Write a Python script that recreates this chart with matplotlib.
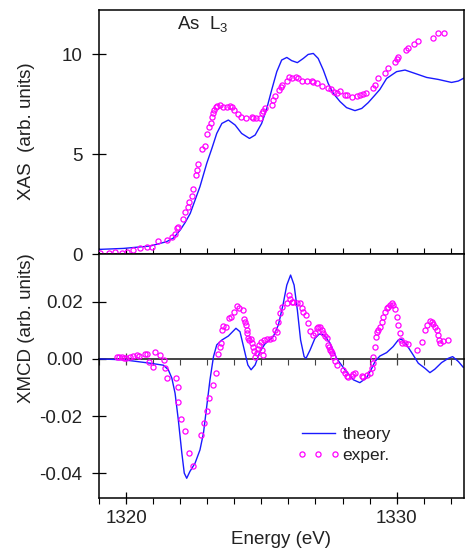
import matplotlib
matplotlib.use('Agg')
import matplotlib.pyplot as plt
from matplotlib.ticker import MultipleLocator
from matplotlib.legend_handler import HandlerLine2D

plt.rcParams['font.family'] = ['Liberation Sans', 'DejaVu Sans']
plt.rcParams['mathtext.default'] = 'regular'

TXT = '#222222'
BLUE = '#1a1aff'
MAG = '#ff00ff'
FS = 13.5

# XAS theory
xas_th_e = [1318.98, 1319.90, 1320.89, 1321.50, 1321.75, 1322.00, 1322.18, 1322.37, 1322.73,
            1322.98, 1323.17, 1323.35, 1323.54, 1323.78, 1324.03, 1324.27, 1324.56, 1324.77,
            1325.01, 1325.20, 1325.38, 1325.57, 1325.75, 1325.94, 1326.12, 1326.33, 1326.55,
            1326.73, 1326.92, 1327.10, 1327.29, 1327.47, 1327.66, 1327.91, 1328.15, 1328.46,
            1328.71, 1328.95, 1329.20, 1329.38, 1329.63, 1330.00, 1330.31, 1330.68, 1331.11,
            1331.54, 1332.03, 1332.28, 1332.52]
xas_th_v = [0.23, 0.28, 0.40, 0.62, 0.80, 1.20, 1.57, 2.03, 3.37,
            4.53, 5.28, 6.03, 6.53, 6.70, 6.45, 6.03, 5.78, 5.95,
            6.53, 7.28, 8.20, 9.12, 9.70, 9.83, 9.67, 9.57, 9.78,
            9.98, 10.03, 9.78, 9.20, 8.53, 8.03, 7.62, 7.32, 7.17,
            7.28, 7.57, 7.95, 8.23, 8.78, 9.12, 9.20, 9.03, 8.83,
            8.73, 8.58, 8.65, 8.82]

# XAS experiment
xas_ex_e = [1319.04, 1319.35, 1319.59, 1319.84, 1320.02, 1320.27, 1320.52, 1320.76, 1320.95,
            1321.19, 1321.50, 1321.69, 1321.81, 1321.87, 1321.93, 1322.12, 1322.18, 1322.27,
            1322.33, 1322.43, 1322.49, 1322.59, 1322.61, 1322.65, 1322.82, 1322.92, 1323.00,
            1323.07, 1323.13, 1323.17, 1323.23, 1323.25, 1323.31, 1323.37, 1323.47, 1323.60,
            1323.72, 1323.84, 1323.90, 1323.99, 1324.13, 1324.25, 1324.43, 1324.64, 1324.70,
            1324.79, 1324.95, 1325.01, 1325.07, 1325.14, 1325.38, 1325.44, 1325.50, 1325.65,
            1325.71, 1325.78, 1325.96, 1326.02, 1326.12, 1326.28, 1326.37, 1326.51, 1326.67,
            1326.86, 1326.92, 1327.04, 1327.23, 1327.45, 1327.56, 1327.70, 1327.78, 1327.91,
            1328.09, 1328.18, 1328.36, 1328.52, 1328.65, 1328.74, 1328.87, 1329.14, 1329.20,
            1329.30, 1329.57, 1329.69, 1329.94, 1330.00, 1330.06, 1330.34, 1330.43, 1330.65,
            1330.80, 1331.35, 1331.54, 1331.75]
xas_ex_v = [0.03, 0.03, 0.08, 0.03, 0.12, 0.20, 0.28, 0.33, 0.37,
            0.67, 0.70, 0.83, 0.98, 1.32, 1.37, 1.75, 2.08, 2.37,
            2.62, 2.90, 3.23, 3.95, 4.20, 4.50, 5.25, 5.42, 5.98,
            6.37, 6.53, 6.87, 7.07, 7.20, 7.37, 7.40, 7.47, 7.37,
            7.37, 7.40, 7.37, 7.20, 6.98, 6.87, 6.82, 6.83, 6.78,
            6.78, 6.78, 7.03, 7.15, 7.28, 7.45, 7.70, 7.92, 8.20,
            8.37, 8.45, 8.67, 8.83, 8.80, 8.83, 8.78, 8.67, 8.65,
            8.67, 8.62, 8.53, 8.40, 8.28, 8.23, 8.12, 8.07, 8.13,
            7.95, 7.97, 7.87, 7.90, 7.95, 8.00, 8.07, 8.28, 8.45,
            8.78, 9.07, 9.28, 9.62, 9.73, 9.87, 10.20, 10.28, 10.48,
            10.67, 10.78, 11.03, 11.07]

# XMCD theory
xmcd_th_e = [1318.98, 1319.90, 1320.89, 1321.38, 1321.56, 1321.69, 1321.81, 1321.93, 1322.06,
             1322.15, 1322.24, 1322.36, 1322.55, 1322.73, 1322.86, 1322.98, 1323.10, 1323.23,
             1323.35, 1323.54, 1323.78, 1324.06, 1324.21, 1324.37, 1324.50, 1324.62, 1324.77,
             1324.95, 1325.13, 1325.44, 1325.63, 1325.81, 1325.94, 1326.08, 1326.21, 1326.33,
             1326.45, 1326.58, 1326.65, 1326.80, 1326.98, 1327.14, 1327.31, 1327.54, 1327.78,
             1328.09, 1328.40, 1328.64, 1328.89, 1329.08, 1329.20, 1329.38, 1329.63, 1329.87,
             1330.06, 1330.18, 1330.37, 1330.61, 1330.80, 1331.05, 1331.23, 1331.41, 1331.66,
             1331.91, 1332.07, 1332.28, 1332.46]
xmcd_th_v = [0.0, -0.0003, -0.0015, -0.0022, -0.0038, -0.0067, -0.0120, -0.0213, -0.0329,
             -0.0399, -0.0417, -0.0393, -0.0364, -0.0318, -0.0259, -0.0166, -0.0073, 0.0008,
             0.0049, 0.0066, 0.0080, 0.0107, 0.0095, 0.0031, -0.0021, -0.0038, -0.0021,
             0.0026, 0.0052, 0.0078, 0.0119, 0.0194, 0.0258, 0.0293, 0.0258, 0.0171,
             0.0066, 0.0008, 0.0002, 0.0031, 0.0072, 0.0087, 0.0084, 0.0055, 0.0002,
             -0.0038, -0.0073, -0.0083, -0.0066, -0.0033, -0.0009, 0.0010, 0.0022, 0.0043,
             0.0066, 0.0069, 0.0049, 0.0014, -0.0015, -0.0033, -0.0048, -0.0036, -0.0013,
             0.0002, 0.0008, -0.0009, -0.0029]

# XMCD experiment
xmcd_ex_e = [1319.66, 1319.75, 1319.84, 1319.94, 1320.00, 1320.15, 1320.27, 1320.39, 1320.46,
             1320.70, 1320.79, 1320.84, 1320.99, 1321.07, 1321.26, 1321.40, 1321.44, 1321.53,
             1321.85, 1321.90, 1321.93, 1322.03, 1322.16, 1322.32, 1322.46, 1322.77, 1322.89,
             1323.00, 1323.07, 1323.20, 1323.31, 1323.41, 1323.47, 1323.50, 1323.53, 1323.60,
             1323.69, 1323.82, 1323.87, 1324.00, 1324.09, 1324.19, 1324.33, 1324.36, 1324.40,
             1324.42, 1324.46, 1324.48, 1324.52, 1324.56, 1324.62, 1324.66, 1324.70, 1324.74,
             1324.77, 1324.83, 1324.86, 1324.93, 1324.98, 1325.04, 1325.07, 1325.10, 1325.20,
             1325.32, 1325.44, 1325.50, 1325.57, 1325.63, 1325.69, 1325.75, 1325.94, 1326.03,
             1326.06, 1326.12, 1326.18, 1326.31, 1326.43, 1326.49, 1326.55, 1326.65, 1326.74,
             1326.80, 1326.92, 1326.98, 1327.04, 1327.11, 1327.17, 1327.23, 1327.29, 1327.35,
             1327.41, 1327.48, 1327.51, 1327.54, 1327.56, 1327.60, 1327.66, 1327.72, 1327.78,
             1328.03, 1328.09, 1328.15, 1328.21, 1328.34, 1328.40, 1328.46, 1328.71, 1328.77,
             1328.89, 1329.01, 1329.08, 1329.11, 1329.14, 1329.20, 1329.24, 1329.26, 1329.32,
             1329.38, 1329.45, 1329.51, 1329.57, 1329.63, 1329.69, 1329.75, 1329.82, 1329.88,
             1329.94, 1330.00, 1330.06, 1330.12, 1330.15, 1330.18, 1330.31, 1330.43, 1330.74,
             1330.92, 1331.05, 1331.11, 1331.23, 1331.29, 1331.35, 1331.42, 1331.48, 1331.54,
             1331.58, 1331.60, 1331.72, 1331.91]
xmcd_ex_v = [0.0006, 0.0006, 0.0006, 0.0002, 0.0002, 0.0008, 0.0010, 0.0013, 0.0010,
             0.0017, 0.0017, -0.0012, -0.0029, 0.0023, 0.0014, -0.0003, -0.0033, -0.0067,
             -0.0067, -0.0097, -0.0149, -0.0209, -0.0251, -0.0329, -0.0373, -0.0265, -0.0225,
             -0.0182, -0.0137, -0.0091, -0.0048, 0.0017, 0.0043, 0.0057, 0.0101, 0.0115,
             0.0113, 0.0142, 0.0148, 0.0165, 0.0185, 0.0177, 0.0171, 0.0140, 0.0130,
             0.0119, 0.0101, 0.0090, 0.0072, 0.0066, 0.0069, 0.0055, 0.0043, 0.0026,
             0.0008, 0.0020, 0.0034, 0.0049, 0.0060, 0.0031, 0.0012, 0.0066, 0.0069,
             0.0069, 0.0072, 0.0101, 0.0095, 0.0130, 0.0159, 0.0180, 0.0194, 0.0223,
             0.0208, 0.0200, 0.0200, 0.0194, 0.0194, 0.0177, 0.0165, 0.0154, 0.0127,
             0.0098, 0.0084, 0.0090, 0.0107, 0.0113, 0.0111, 0.0101, 0.0090, 0.0080,
             0.0072, 0.0049, 0.0043, 0.0031, 0.0026, 0.0020, 0.0008, -0.0009, -0.0021,
             -0.0038, -0.0050, -0.0059, -0.0062, -0.0059, -0.0052, -0.0050, -0.0059, -0.0062,
             -0.0056, -0.0048, -0.0033, -0.0015, 0.0008, 0.0043, 0.0078, 0.0095, 0.0101,
             0.0113, 0.0130, 0.0148, 0.0165, 0.0177, 0.0183, 0.0188, 0.0194, 0.0188,
             0.0173, 0.0148, 0.0119, 0.0090, 0.0066, 0.0055, 0.0055, 0.0052, 0.0031,
             0.0060, 0.0101, 0.0119, 0.0134, 0.0130, 0.0122, 0.0113, 0.0101, 0.0084,
             0.0066, 0.0055, 0.0064, 0.0066]

xas_ticks = [0, 5, 10]
xmcd_ticks = [-0.04, -0.02, 0.00, 0.02]
xmcd_ticklabels = ['-0.04', '-0.02', '0.00', '0.02']

fig = plt.figure(figsize=(4.66, 5.55), dpi=100)
ax1 = fig.add_axes([0.2114, 0.5423, 0.7843, 0.4396])
ax2 = fig.add_axes([0.2114, 0.1027, 0.7843, 0.4396])

mk = dict(ls='none', marker='o', mfc='none', mec=MAG, ms=3.7, mew=0.9)

# top: XAS
ax1.plot(xas_th_e, xas_th_v, color=BLUE, lw=1.0, zorder=2)
ax1.plot(xas_ex_e, xas_ex_v, zorder=3, **mk)
ax1.set_ylim(0, 12.2)
ax1.set_yticks(xas_ticks)
ax1.text(1321.88, 11.25, 'As  L$_3$', fontsize=FS, color=TXT, va='baseline', ha='left')
ax1.set_ylabel('XAS  (arb. units)', fontsize=FS, color=TXT)
ax1.yaxis.set_label_coords(-0.175, 0.504)

# bottom: XMCD
th_line, = ax2.plot(xmcd_th_e, xmcd_th_v, color=BLUE, lw=1.0, zorder=2, label='theory')
ex_line, = ax2.plot(xmcd_ex_e, xmcd_ex_v, zorder=3, label='exper.', **mk)
ax2.set_ylim(-0.0486, 0.03665)
ax2.set_yticks(xmcd_ticks)
ax2.set_yticklabels(xmcd_ticklabels)
ax2.set_ylabel('XMCD (arb. units)', fontsize=FS, color=TXT)
ax2.yaxis.set_label_coords(-0.175, 0.698)
ax2.set_xlabel('Energy (eV)', fontsize=FS, color=TXT, labelpad=3)

# zero line drawn as an extra x axis with its own ticks
zero_ax = ax2.secondary_xaxis(0, transform=ax2.transData)
zero_ax.spines['bottom'].set_color('#444444')
zero_ax.spines['bottom'].set_linewidth(1.4)
zero_ax.xaxis.set_major_locator(MultipleLocator(10))
zero_ax.xaxis.set_minor_locator(MultipleLocator(1))
zero_ax.tick_params(which='major', direction='inout', length=8.4, width=0.9,
                    color='#444444', labelbottom=False)
zero_ax.tick_params(which='minor', direction='out', length=4.5, width=0.8, color='#444444')

leg = ax2.legend(handles=[th_line, ex_line], loc='center left', bbox_to_anchor=(0.556, 0.216),
                 frameon=False, fontsize=12.5, handlelength=1.9, handletextpad=0.45,
                 borderpad=0, borderaxespad=0, labelspacing=0.35,
                 handler_map={ex_line: HandlerLine2D(numpoints=3, marker_pad=0)})
for t in leg.get_texts():
    t.set_color(TXT)

for ax in (ax1, ax2):
    ax.set_xlim(1318.98, 1332.49)
    ax.xaxis.set_major_locator(MultipleLocator(10))
    ax.xaxis.set_minor_locator(MultipleLocator(1))
    for sp in ax.spines.values():
        sp.set_linewidth(1.1)
    ax.tick_params(axis='y', direction='inout', length=9.4, width=0.9, pad=6.8,
                   labelsize=FS, labelcolor=TXT, right=False)

ax1.tick_params(axis='x', which='major', direction='inout', length=8.2, width=0.9, labelbottom=False)
ax1.tick_params(axis='x', which='minor', direction='in', length=4.1, width=0.8)
ax2.tick_params(axis='x', which='major', direction='inout', length=8.2, width=0.9, pad=4.5,
                labelsize=FS, labelcolor=TXT)
ax2.tick_params(axis='x', which='minor', direction='out', length=4.1, width=0.8)

fig.savefig('out.png', dpi=100)
